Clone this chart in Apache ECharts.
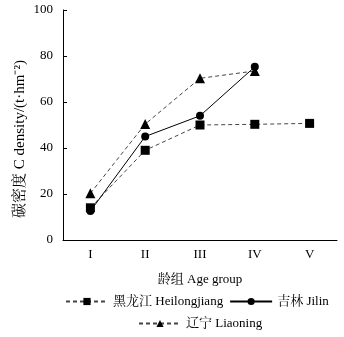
<!DOCTYPE html>
<html><head><meta charset="utf-8">
<script src="https://cdn.jsdelivr.net/npm/echarts@6/dist/echarts.min.js"></script>
<style>html,body{margin:0;padding:0;background:#fff}#c{width:344px;height:337px}</style>
</head><body><div id="c"></div>
<script>
const categories = ['I','II','III','IV','V'];
const heilongjiang = [14, 39, 50, 50.3, 50.7];
const jilin = [12.6, 45, 54, 75.3, null];
const liaoning = [20.3, 50.4, 70.3, 73.5, null];
const yTicks = [0, 20, 40, 60, 80, 100];
const names = ['黑龙江 Heilongjiang', '吉林 Jilin', '辽宁 Liaoning'];

const font = '"Liberation Serif","Noto Serif CJK SC","Noto Sans CJK SC",serif';
const chart = echarts.init(document.getElementById('c'));
chart.setOption({
  animation: false,
  textStyle: { fontFamily: font, color: '#000' },
  grid: { left: 63, right: 7, top: 10, bottom: 97 },
  xAxis: {
    type: 'category', data: categories, boundaryGap: true,
    name: '龄组 Age group', nameLocation: 'middle', nameGap: 33,
    nameTextStyle: { fontFamily: font, fontSize: 13, color: '#000' },
    axisLine: { lineStyle: { color: '#000', width: 1 } },
    axisTick: { inside: true, length: 4, lineStyle: { color: '#000' } },
    axisLabel: { fontFamily: font, fontSize: 13, color: '#000', margin: 8 }
  },
  yAxis: {
    type: 'value', min: yTicks[0], max: yTicks[yTicks.length - 1], interval: 20,
    name: '碳密度 C density/(t·hm⁻²)', nameLocation: 'middle', nameGap: 35, nameMoveOverlap: false,
    nameTextStyle: { fontFamily: font, fontSize: 15, color: '#000', padding: [0, 28, 0, 0] },
    axisLine: { show: true, lineStyle: { color: '#000', width: 1 } },
    axisTick: { show: true, inside: true, length: 4, lineStyle: { color: '#000' } },
    axisLabel: { fontFamily: font, fontSize: 13, color: '#000', margin: 10 },
    splitLine: { show: false }
  },
  legend: [
    { data: [names[0], names[1]], top: 290, left: 60, itemWidth: 42, itemHeight: 9, itemGap: 6,
      textStyle: { fontFamily: font, fontSize: 13, color: '#000' } },
    { data: [names[2]], top: 312, left: 133, itemWidth: 42, itemHeight: 9,
      textStyle: { fontFamily: font, fontSize: 13, color: '#000' } }
  ],
  series: [
    { name: names[0], type: 'line', data: heilongjiang, symbol: 'rect', symbolSize: 9,
      itemStyle: { color: '#000' }, lineStyle: { color: '#444', type: [4, 3], width: 1 } },
    { name: names[1], type: 'line', data: jilin, symbol: 'circle', symbolSize: 8,
      itemStyle: { color: '#000' }, lineStyle: { color: '#000', type: 'solid', width: 1 } },
    { name: names[2], type: 'line', data: liaoning, symbol: 'triangle', symbolSize: 10,
      itemStyle: { color: '#000' }, lineStyle: { color: '#444', type: [4, 3], width: 1 } }
  ]
});
</script></body></html>
